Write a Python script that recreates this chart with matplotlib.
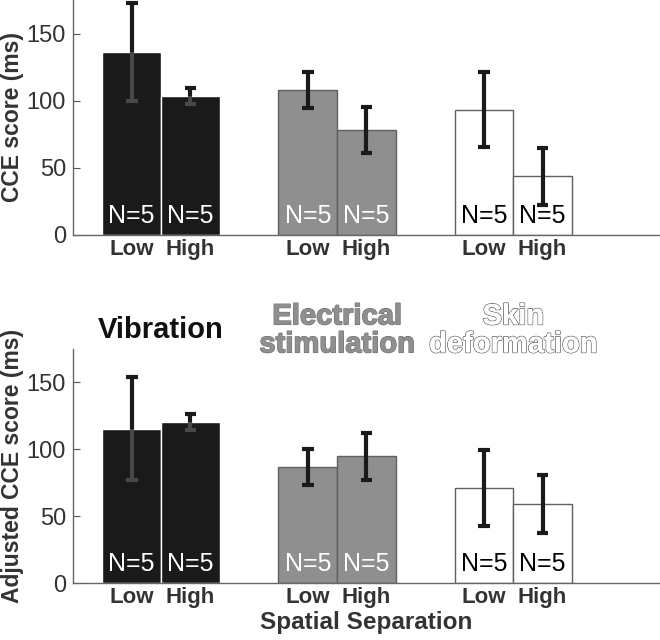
import matplotlib
matplotlib.use('Agg')
import matplotlib.pyplot as plt
import matplotlib.patheffects as pe
import numpy as np

plt.rcParams['font.family'] = ['Liberation Sans', 'DejaVu Sans']

groups = ['Vibration', 'Electrical\nstimulation', 'Skin\ndeformation']
levels = ['Low', 'High']
n_labels = ['N=5', 'N=5']

cce_mean = [[136.5, 103.2], [108.2, 78.1], [93.3, 43.5]]
cce_err = [[36.6, 6.0], [13.3, 17.0], [28.0, 21.4]]
adj_mean = [[115.4, 120.1], [86.8, 94.8], [71.4, 59.0]]
adj_err = [[38.6, 6.0], [13.2, 17.4], [28.4, 21.9]]

face_colors = ['#1a1a1a', '#8f8f8f', '#ffffff']
n_colors = ['white', 'white', 'black']
low_err_colors = ['#484848', '#1a1a1a', '#1a1a1a']

group_pos = np.array([0, 3, 6])
offsets = np.array([-0.5, 0.5])


def draw_panel(ax, means, errs, ylabel):
    for g, gx in enumerate(group_pos):
        xs = gx + offsets
        ax.bar(xs, means[g], width=1.0, color=face_colors[g],
               edgecolor='white' if g == 0 else '#606060', linewidth=1.0, zorder=2)
        for i, x in enumerate(xs):
            m, e = means[g][i], errs[g][i]
            ax.plot([x, x], [m, m + e], color='#1a1a1a', lw=3, zorder=3, solid_capstyle='butt')
            ax.plot([x, x], [m - e, m], color=low_err_colors[g], lw=3, zorder=3, solid_capstyle='butt')
            ax.plot([x - 0.1, x + 0.1], [m + e, m + e], color='#1a1a1a', lw=3, zorder=3,
                    solid_capstyle='butt', clip_on=False)
            ax.plot([x - 0.1, x + 0.1], [m - e, m - e], color=low_err_colors[g], lw=3, zorder=3,
                    solid_capstyle='butt')
            ax.text(x, 14, n_labels[i], ha='center', va='center', fontsize=18,
                    color=n_colors[g], zorder=4)
    ax.set_xlim(-1.5, 8.5)
    ax.set_ylim(0, 175)
    ax.set_yticks([0, 50, 100, 150])
    ticks = np.concatenate([gx + offsets for gx in group_pos])
    ax.set_xticks(ticks)
    ax.set_xticklabels(levels * 3, fontsize=16, fontweight='bold', color='#333333')
    ax.tick_params(axis='x', length=0, pad=3)
    ax.tick_params(axis='y', direction='in', length=5, color='#555555', labelsize=17,
                   labelcolor='#333333', pad=5)
    for s in ['top', 'right']:
        ax.spines[s].set_visible(False)
    for s in ['left', 'bottom']:
        ax.spines[s].set_color('#666666')
        ax.spines[s].set_linewidth(1.0)
    ax.set_ylabel(ylabel, fontsize=16.5, fontweight='bold', color='#333333')
    ax.yaxis.set_label_coords(-0.084, 0.5)


fig = plt.figure(figsize=(6.6, 6.4), dpi=100)
ax1 = fig.add_axes([0.1106, 0.633, 0.8894, 0.367])
ax2 = fig.add_axes([0.1106, 0.089, 0.8894, 0.3656])

draw_panel(ax1, cce_mean, cce_err, 'CCE score (ms)')
draw_panel(ax2, adj_mean, adj_err, 'Adjusted CCE score (ms)')
ax2.set_xlabel('Spatial Separation', fontsize=17.5, fontweight='bold', color='#333333', labelpad=2)

# condition titles above the lower panel
ax2.text(group_pos[0], 189, groups[0], ha='center', va='center', fontsize=21,
         fontweight='bold', color='#111111', clip_on=False)
ax2.text(group_pos[1], 189, groups[1], ha='center', va='center', fontsize=21,
         fontweight='bold', color='#8f8f8f', clip_on=False, linespacing=1.0,
         path_effects=[pe.withStroke(linewidth=1.0, foreground='#6a6a6a'), pe.Normal()])
ax2.text(group_pos[2], 189, groups[2], ha='center', va='center', fontsize=21,
         fontweight='bold', color='white', clip_on=False, linespacing=1.0,
         path_effects=[pe.withStroke(linewidth=1.2, foreground='#6a6a6a'), pe.Normal()])

fig.savefig('out.png', dpi=100)
